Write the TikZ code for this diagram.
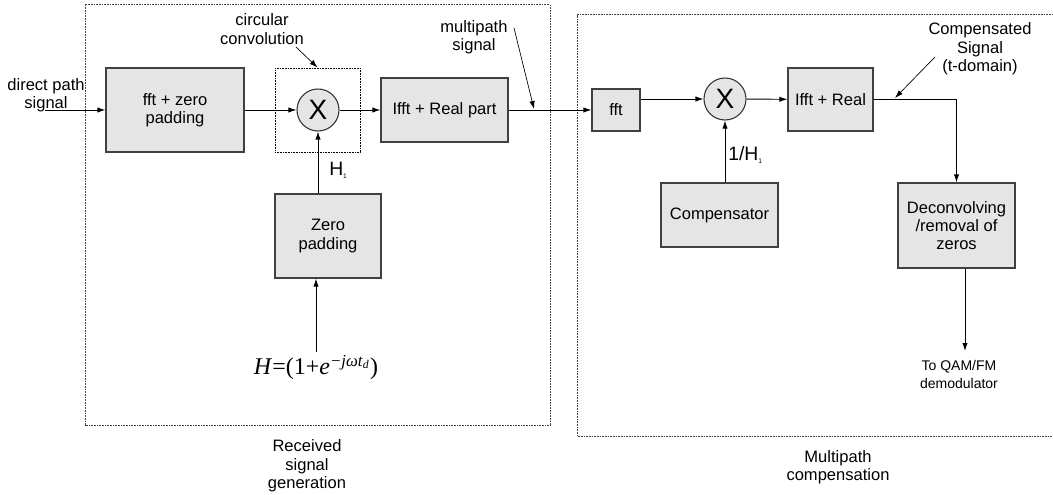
\documentclass[tikz,border=0pt]{standalone}
\usepackage{fontspec}
\setmainfont{Liberation Sans}
\newfontfamily\tmsfont{Liberation Serif}
\usetikzlibrary{arrows.meta}

\tikzset{
  block/.style={draw=black!75, line width=0.9pt, fill=black!10, align=center, inner sep=0pt},
  mult/.style={circle, draw=black!80, line width=0.8pt, fill=black!10, minimum size=31.5pt, inner sep=0pt, font=\fontsize{21}{21}\selectfont},
  region/.style={draw=black!75, dash pattern=on 0.7pt off 0.5pt, line width=0.75pt},
  lbl/.style={align=center},
  pointer/.style={-{Latex[length=6pt,width=4pt]}, line width=0.7pt},
  callout/.style={-{Latex[length=6pt,width=4pt]}, line width=0.5pt},
}

\begin{document}
\begin{tikzpicture}[x=0.75pt, y=-0.75pt, every node/.style={font=\fontsize{12.4}{13.8}\selectfont}]
\useasboundingbox (0,0) rectangle (1053,495);

% the two regions
\draw[region] (85,5) rectangle (550,425);
\draw[region] (1053,15) -- (577,15) -- (577,436) -- (1053,436);
\node[lbl] (rxlbl) at (307,466) {Received\\signal\\generation};
\node[lbl] (mplbl) at (838,467) {Multipath\\compensation};

% received signal generation
\node[lbl] (dplbl) at (46,95) {direct path\\signal};
\coordinate (dpin) at (45,110);
\node[block, minimum width=103.5pt, minimum height=63pt] (fftzp) at (175,110) {fft + zero\\padding};
\node[draw, dash pattern=on 0.7pt off 0.5pt, line width=0.7pt, minimum width=63.75pt, minimum height=63pt] (conv) at (317.5,110) {};
\node[mult] (mult1) at (318,110) {X};
\node[block, minimum width=95.25pt, minimum height=48pt] (ifftre) at (444.5,110) {Ifft + Real part};
\node[block, minimum width=79.5pt, minimum height=63pt] (zeropad) at (328,236) {Zero\\padding};
\node[anchor=north, inner sep=2pt] (hform) at (316,352)
  {\tmsfont\fontsize{18}{18}\selectfont\textit{H}=(1+\textit{e}\textsuperscript{\textit{−jωt}\textsubscript{\textit{d}}})};
\node[anchor=west, inner sep=0pt, font=\fontsize{14.5}{14.5}\selectfont] (h1lbl) at (329,170) {H\textsubscript{\fontsize{5}{5}\selectfont 1}};

\node[lbl] (cclbl) at (262,29) {circular\\convolution};
\coordinate (cctail) at (296,47);
\node[lbl] (mslbl) at (474,37) {multipath\\signal};
\coordinate (mstail) at (514,28);
\coordinate (mstip) at (534,109);

\draw[pointer] (dpin) -- (fftzp);
\draw[pointer] (fftzp) -- (mult1);
\draw[pointer] (mult1) -- (ifftre);
\draw[pointer] (zeropad.north -| mult1) -- (mult1);
\draw[pointer] (hform.north) -- (hform.north |- zeropad.south);
\draw[callout] (cctail) -- (conv.north);
\draw[callout] (mstail) -- (mstip);

% multipath compensation
\node[block, minimum width=36pt, minimum height=31.5pt] (fft) at (616,110) {fft};
\node[mult] (mult2) at (725,99) {X};
\node[block, minimum width=63.75pt, minimum height=47.25pt] (ifft2) at (830.5,99.5) {Ifft + Real};
\node[block, minimum width=87.75pt, minimum height=48pt] (comp) at (719.5,215) {Compensator};
\node[block, minimum width=87.75pt, minimum height=63.75pt] (deconv) at (956.5,225.5) {Deconvolving\\/removal of\\zeros};
\node[anchor=west, inner sep=0pt, font=\fontsize{14.5}{14.5}\selectfont] (ih1lbl) at (728,155) {1/H\textsubscript{\fontsize{5}{5}\selectfont 1}};
\node[lbl, font=\fontsize{10.5}{13.5}\selectfont] (qamlbl) at (959,374) {To QAM/FM\\demodulator};
\coordinate (qamtip) at (965,351);

\node[lbl] (cslbl) at (980,49) {Compensated\\Signal\\(t-domain)};
\coordinate (cstail) at (935,57);
\coordinate (cstip) at (895,98);

\draw[pointer] (ifftre) -- (fft);
\draw[pointer] (fft.east |- mult2) -- (mult2);
\draw[pointer] (mult2) -- (ifft2);
\draw[pointer] (comp.north -| mult2) -- (mult2);
\draw[pointer] (ifft2) -| (deconv);
\draw[pointer] (deconv.south -| qamtip) -- (qamtip);
\draw[callout] (cstail) -- (cstip);

\end{tikzpicture}
\end{document}
